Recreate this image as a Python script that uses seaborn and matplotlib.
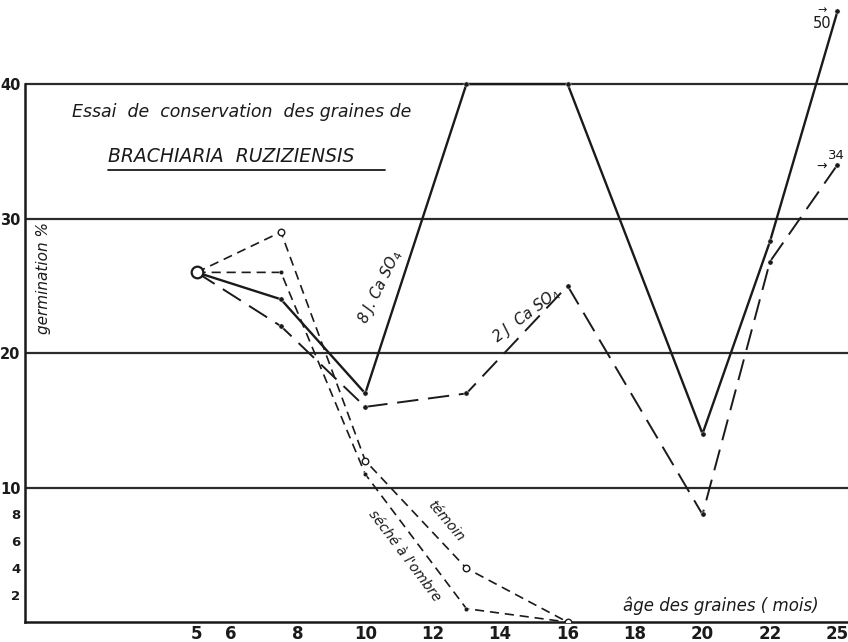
import numpy as np
import pandas as pd
import matplotlib
matplotlib.use('Agg')
import matplotlib.pyplot as plt
from matplotlib.ticker import FixedLocator, FuncFormatter
import seaborn as sns

# Age of the seeds (months) and germination (%)
age = [5, 7.5, 10, 13, 16, 20, 22, 25]
ca_so4_8j = [26, 24, 17, 40, 40, 14, 28.3, 50]
ca_so4_2j = [26, 22, 16, 17, 25, 8, 26.8, 34]
age_short = [5, 7.5, 10, 13, 16]
temoin = [26, 29, 12, 4, 0]
seche_ombre = [26, 26, 11, 1, 0]

x_ticks = [5, 6, 8, 10, 12, 14, 16, 18, 20, 22, 25]
y_major = [10, 20, 30, 40]

OFF_SCALE = 45.4  # values above the sheet are drawn at its top edge


def fwd(x):
    x = np.asarray(x, dtype=float)
    return np.where(x <= 22, x, 22 + (x - 22) * 2 / 3)


def inv(x):
    x = np.asarray(x, dtype=float)
    return np.where(x <= 22, x, 22 + (x - 22) * 1.5)


sns.set_style('white')
plt.rcParams['font.family'] = ['DejaVu Sans']

fig = plt.figure(figsize=(8.48, 6.42), dpi=100)
ax = fig.add_axes([0.029, 0.031, 0.971, 0.969])
ax.set_xscale('function', functions=(fwd, inv))
ax.set_xlim(-0.1, 25.47)
ax.set_ylim(0, 46.25)

ink = '#1a1a1a'

# horizontal reference lines
ax.yaxis.set_major_locator(FixedLocator(y_major))
ax.grid(axis='y', color='#2b2b2b', lw=1.6)
ax.grid(axis='x', visible=False)
ax.set_axisbelow(True)

df8 = pd.DataFrame({'age': age, 'g': np.minimum(ca_so4_8j, OFF_SCALE)})
df2 = pd.DataFrame({'age': age, 'g': ca_so4_2j})
dft = pd.DataFrame({'age': age_short, 'g': temoin})
dfs = pd.DataFrame({'age': age_short, 'g': seche_ombre})

sns.lineplot(data=df8, x='age', y='g', ax=ax, color=ink, lw=1.7, ls='-')
sns.lineplot(data=df2, x='age', y='g', ax=ax, color=ink, lw=1.4, ls=(0, (11, 5)))
sns.lineplot(data=dft, x='age', y='g', ax=ax, color=ink, lw=1.2, ls=(0, (5.5, 3.5)))
sns.lineplot(data=dfs, x='age', y='g', ax=ax, color=ink, lw=1.2, ls=(0, (5.5, 3.5)))

# points
sns.scatterplot(data=df8.iloc[1:], x='age', y='g', ax=ax, color=ink, s=14, zorder=5)
sns.scatterplot(data=df2.iloc[1:], x='age', y='g', ax=ax, color=ink, s=14, zorder=5)
sns.scatterplot(data=dfs.iloc[1:], x='age', y='g', ax=ax, color=ink, s=10, zorder=5)
sns.scatterplot(data=dft.iloc[1:], x='age', y='g', ax=ax, facecolor='white',
                edgecolor=ink, linewidth=1.0, s=22, zorder=6)
sns.scatterplot(x=[age[0]], y=[ca_so4_8j[0]], ax=ax, facecolor='white',
                edgecolor=ink, linewidth=1.6, s=70, zorder=7)

# axes
for side in ['top', 'right']:
    ax.spines[side].set_visible(False)
ax.spines['left'].set_bounds(0, 40)
for side in ['left', 'bottom']:
    ax.spines[side].set_color(ink)
    ax.spines[side].set_linewidth(1.8)

ax.set_xticks(x_ticks)
ax.set_xticklabels([str(t) for t in x_ticks])
ax.xaxis.set_minor_locator(FixedLocator([23.5]))
ax.tick_params(axis='x', which='both', direction='in', length=5, width=1.2,
               colors=ink, labelsize=12, pad=2)
ax.set_yticklabels([str(t) for t in y_major])
ax.yaxis.set_minor_locator(FixedLocator([v for v in range(2, 40, 2) if v % 10]))
ax.yaxis.set_minor_formatter(FuncFormatter(lambda v, p: str(int(v)) if v < 10 else ''))
ax.tick_params(axis='y', which='major', direction='out', length=2, width=1.2,
               colors=ink, labelsize=10.5, pad=1)
ax.tick_params(axis='y', which='minor', direction='out', length=2, width=1.0,
               colors=ink, labelsize=9.5, pad=1)
for lab in ax.get_xticklabels() + ax.get_yticklabels() + ax.get_yticklabels(minor=True):
    lab.set_fontweight('bold')
ax.set_xlabel('')
ax.set_ylabel('')

# texts
ax.text(1.3, 37.9, 'Essai  de  conservation  des graines de', fontsize=12.5,
        style='italic', color=ink, va='center', ha='left')
ax.text(2.36, 34.6, 'BRACHIARIA  RUZIZIENSIS', fontsize=13.5, style='italic',
        color=ink, va='center', ha='left')
ax.plot([2.36, 10.58], [33.6, 33.6], color=ink, lw=1.3)
ax.text(0.45, 25.6, 'germination %', rotation=90, fontsize=11, style='italic',
        color=ink, ha='center', va='center')
ax.text(10.45, 24.9, '8 J. Ca SO$_4$', rotation=64, fontsize=10.5, style='italic',
        color=ink, ha='center', va='center')
ax.text(14.79, 22.8, '2 J  Ca SO$_4$', rotation=37, fontsize=10.5, style='italic',
        color=ink, ha='center', va='center')
ax.text(12.4, 7.5, 'témoin', rotation=-50, fontsize=10, style='italic',
        color=ink, ha='center', va='center')
ax.text(11.15, 4.9, 'séché à l\'ombre', rotation=-53, fontsize=10, style='italic',
        color=ink, ha='center', va='center')
ax.text(20.55, 1.2, 'âge des graines ( mois)', fontsize=12, style='italic',
        color=ink, ha='center', va='center')
ax.text(24.3, 44.5, '50', fontsize=10.5, color=ink, ha='center', va='center')
ax.text(24.3, 45.5, '→', fontsize=8, color=ink, ha='center', va='center')
ax.text(24.94, 34.7, '34', fontsize=9.5, color=ink, ha='center', va='center')
ax.text(24.31, 33.9, '→', fontsize=9, color=ink, ha='center', va='center')

fig.savefig('out.png', dpi=100, facecolor='white')
